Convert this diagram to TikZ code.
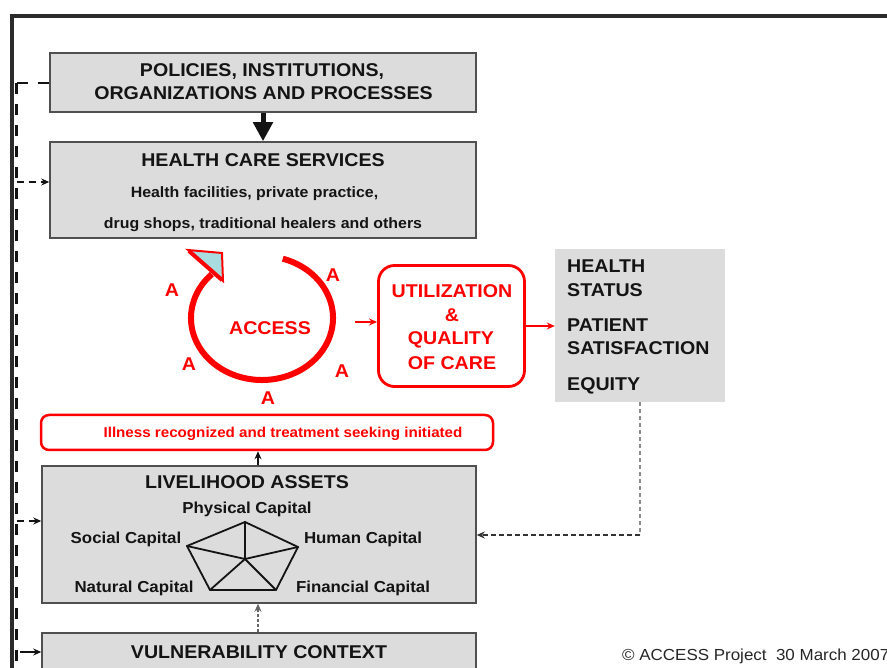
\documentclass[tikz,border=0pt]{standalone}
\usepackage{fontspec}
\setmainfont{Liberation Sans}[FakeStretch=1.06]
\usetikzlibrary{arrows.meta,calc}
\definecolor{boxgray}{HTML}{DCDCDC}
\definecolor{edgegray}{HTML}{505050}
\definecolor{framegray}{HTML}{2B2B2B}
\definecolor{accred}{HTML}{FF0000}
\definecolor{tipblue}{HTML}{A8DCDE}
\definecolor{inkblack}{HTML}{141414}

\begin{document}
\begin{tikzpicture}[x=1pt,y=-1pt,
  graybox/.style={draw=edgegray, line width=1.5pt, fill=boxgray, inner sep=0pt},
  plainbox/.style={fill=boxgray, inner sep=0pt},
  redbox/.style={draw=accred, line width=2.8pt, fill=white, rounded corners=#1, inner sep=0pt},
  txt/.style={anchor=base, inner sep=0pt, text=inkblack},
  big/.style={txt, font=\fontsize{18.5}{20}\selectfont\bfseries},
  mid/.style={txt, font=\fontsize{15}{17}\selectfont\bfseries},
  captxt/.style={txt, font=\fontsize{15.9}{17}\selectfont\bfseries},
  redbig/.style={big, text=accred},
  redmid/.style={txt, font=\fontsize{14.3}{16}\selectfont\bfseries, text=accred},
  bus/.style={line width=3pt, dash pattern=on 11pt off 10pt, inkblack},
  tap/.style={line width=1.3pt, dash pattern=on 7pt off 5pt, inkblack, -{Stealth[length=8pt,width=7pt]}},
  redarrow/.style={line width=1.5pt, accred, -{Stealth[length=8pt,width=7pt]}},
  fbgray/.style={line width=1.3pt, dash pattern=on 4pt off 3pt, black!45},
  fbdark/.style={line width=1.3pt, dash pattern=on 5pt off 3pt, black!80, -{Stealth[length=8pt,width=7pt]}},
  spoke/.style={line width=1.8pt, inkblack, line join=round, line cap=round}
]
\useasboundingbox (0,0) rectangle (887,668);
\clip (0,0) rectangle (887,668);

% outer frame
\draw[framegray, line width=4pt] (12,670) -- (12,16) -- (889,16);

% boxes
\node[graybox, minimum width=426pt, minimum height=59pt] (pol) at (263,82.5) {};
\node[graybox, minimum width=426pt, minimum height=96pt] (hcs) at (263,190) {};
\node[graybox, minimum width=434pt, minimum height=137pt] (liv) at (259,534.5) {};
\node[graybox, minimum width=434pt, minimum height=48pt] (vul) at (259,657) {};
\node[plainbox, minimum width=170pt, minimum height=153pt] (stat) at (640,325.5) {};
\node[redbox=16pt, minimum width=146pt, minimum height=121pt] (util) at (451.5,326) {};
\node[redbox=8pt, line width=2.5pt, minimum width=452pt, minimum height=35pt] (ill) at (267,432.5) {};

% box texts
\node[big] (polA) at (262,77) {POLICIES, INSTITUTIONS,};
\node[big] (polB) at (263.5,100) {ORGANIZATIONS AND PROCESSES};
\node[big] (hcsT) at (263,167) {HEALTH CARE SERVICES};
\node[mid] (hcsA) at (254.5,198) {Health facilities, private practice,};
\node[mid] (hcsB) at (263,229) {drug shops, traditional healers and others};

\node[redbig] (utA) at (452,298) {UTILIZATION};
\node[redbig] (utB) at (452,322) {\&};
\node[redbig] (utC) at (451,345) {QUALITY};
\node[redbig] (utD) at (452,370) {OF CARE};

\node[big, anchor=base west] (stA) at (567,273) {HEALTH};
\node[big, anchor=base west] (stB) at (567,297) {STATUS};
\node[big, anchor=base west] (stC) at (567,332) {PATIENT};
\node[big, anchor=base west] (stD) at (567,355) {SATISFACTION};
\node[big, anchor=base west] (stE) at (567,391) {EQUITY};

\node[redmid] (illT) at (283,438) {Illness recognized and treatment seeking initiated};

\node[big] (livT) at (247,488) {LIVELIHOOD ASSETS};
\node[captxt] (capP) at (247,513) {Physical Capital};
\node[captxt] (capS) at (126,543) {Social Capital};
\node[captxt] (capH) at (363,543) {Human Capital};
\node[captxt] (capN) at (134,592) {Natural Capital};
\node[captxt] (capF) at (363,592) {Financial Capital};

\node[big] (vulT) at (259,658) {VULNERABILITY CONTEXT};

\node[txt, anchor=base west, font=\fontsize{16}{18}\selectfont, text=black!85] (copy) at (622,660) {© ACCESS Project\ \ 30 March 2007};

% asset pentagon
\coordinate (pTop) at (245,522);
\coordinate (pRight) at (298,547);
\coordinate (pBR) at (276,590);
\coordinate (pBL) at (210,590);
\coordinate (pLeft) at (187,546);
\coordinate (pC) at (245,559);
\draw[spoke] (pTop) -- (pRight) -- (pBR) -- (pBL) -- (pLeft) -- cycle;
\foreach \v in {pTop,pRight,pBR,pBL,pLeft} \draw[spoke] (pC) -- (\v);

% access loop with its arrowhead
\coordinate (loopc) at (262,318);
\draw[accred, line width=6pt] (loopc) ++(73:71pt and 62pt)
  arc[start angle=73, end angle=-225, x radius=71pt, y radius=62pt];
\filldraw[draw=accred, fill=tipblue, line width=2pt, line join=miter]
  (188,250) -- (222,253) -- (223,281) -- cycle;
\draw[accred, line width=4pt] (189,251) -- (222,280);

\node[redbig] (accT) at (270,335) {ACCESS};
\node[redbig] (a1) at (172,297) {A};
\node[redbig] (a2) at (333,282) {A};
\node[redbig] (a3) at (189,371) {A};
\node[redbig] (a4) at (342,378) {A};
\node[redbig] (a5) at (268,405) {A};

% connectors
\coordinate (loopOut) at (355,322);
\draw[redarrow] (loopOut) -- (util.west |- loopOut);
\draw[redarrow] (util.east) -- (stat.west |- util.east);

\draw[line width=5pt, inkblack, -{Triangle[length=19pt,width=19pt]}] (pol.south) -- (hcs.north);
\draw[line width=1.5pt, inkblack, -{Stealth[length=8pt,width=7pt]}] (liv.north -| 258,0) -- (ill.south -| 258,0);
\draw[line width=1.2pt, dash pattern=on 3pt off 2pt, black!60, -{Stealth[length=8pt,width=7pt]}] (vul.north -| 258,0) -- (liv.south -| 258,0);

\coordinate (fbTop) at (640,402);
\coordinate (fbCorner) at (640,535);
\draw[fbgray] (fbTop) -- (fbCorner);
\draw[fbdark] (fbCorner) -- (liv.east |- fbCorner);

% dashed feedback bus on the left
\coordinate (busTop) at (16.5,83);
\coordinate (busEnd) at (16.5,670);
\coordinate (tapH) at (16.5,182);
\coordinate (tapL) at (16.5,521);
\coordinate (tapV) at (20,652);
\draw[bus] (busTop) -- (busEnd);
\draw[line width=2pt, dash pattern=on 11pt off 10pt, inkblack] (busTop) -- (pol.west |- busTop);
\draw[tap] (tapH) -- (hcs.west |- tapH);
\draw[tap] (tapL) -- (liv.west |- tapL);
\draw[line width=1.5pt, inkblack, -{Stealth[length=8pt,width=7pt]}] (tapV) -- (vul.west |- tapV);
\end{tikzpicture}
\end{document}
